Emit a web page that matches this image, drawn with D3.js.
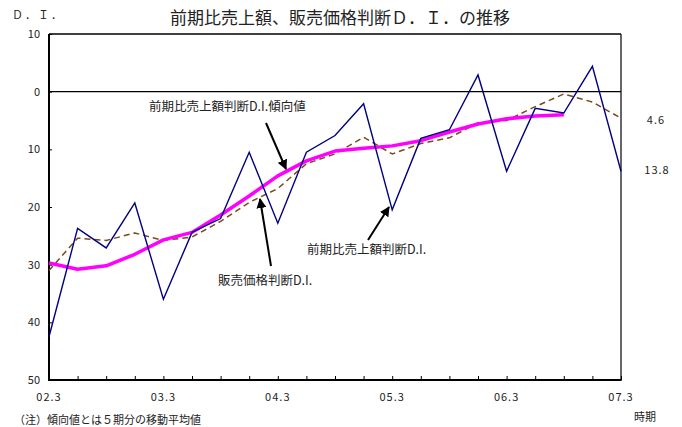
<!DOCTYPE html>
<html>
<head>
<meta charset="utf-8">
<script src="https://cdn.jsdelivr.net/npm/d3@7"></script>
<style>
  html, body { margin: 0; padding: 0; background: #fff; }
  svg text { font-family: "Noto Sans CJK JP", "Noto Sans", sans-serif; fill: #222; }
</style>
</head>
<body>
<svg id="chart" width="682" height="427"></svg>
<script>
// Quarterly periods, 2002 Mar to 2007 Mar
const periods = [
  "02.3","02.6","02.9","02.12",
  "03.3","03.6","03.9","03.12",
  "04.3","04.6","04.9","04.12",
  "05.3","05.6","05.9","05.12",
  "06.3","06.6","06.9","06.12",
  "07.3"
];
const tickLabels = ["02.3","03.3","04.3","05.3","06.3","07.3"];
const yTicks = [10, 0, -10, -20, -30, -40, -50];

// 前期比売上額判断D.I.
const salesDI = [
  -42.5, -23.7, -27.1, -19.3, -36.0, -24.4, -22.0, -10.5, -22.8, -10.5,
  -7.6, -2.1, -20.5, -8.1, -6.6, 2.9, -13.8, -2.9, -3.7, 4.4, -13.8
];
// 販売価格判断D.I.
const priceDI = [
  -31.0, -25.4, -25.8, -24.5, -25.8, -25.2, -22.5, -19.2, -16.8, -12.5,
  -10.8, -7.9, -10.8, -9.0, -8.0, -5.4, -5.0, -2.6, -0.4, -1.8, -4.6
];
// 前期比売上額判断D.I.傾向値 (5期移動平均)
const salesTrend = [
  -29.7, -30.8, -30.2, -28.2, -25.7, -24.4, -21.4, -18.1, -14.6, -12.0,
  -10.3, -9.8, -9.4, -8.5, -7.0, -5.6, -4.7, -4.2, -4.0
];

const svg = d3.select("#chart");
const plotL = 49, plotR = 621, plotT = 34, plotB = 380;

const x = d3.scalePoint().domain(periods).range([plotL, plotR]);
const y = d3.scaleLinear().domain([10, -50]).range([plotT, plotB]);

// title and unit
svg.append("text").attr("x", 340).attr("y", 24).attr("text-anchor", "middle")
  .attr("font-size", 17).text("前期比売上額、販売価格判断Ｄ．Ｉ．の推移");
svg.append("text").attr("x", 12).attr("y", 19).attr("font-size", 11)
  .attr("letter-spacing", 2).text("Ｄ．Ｉ．");

// zero line
svg.append("line").attr("x1", plotL).attr("x2", plotR)
  .attr("y1", y(0)).attr("y2", y(0)).attr("stroke", "#000").attr("stroke-width", 1.2);

// y axis
const yAxis = d3.axisRight(y).tickValues(yTicks).tickSize(3).tickFormat("");
svg.append("g").attr("transform", `translate(${plotL},0)`).call(yAxis)
  .call(g => g.select(".domain").remove())
  .call(g => g.selectAll("line").attr("stroke", "#000"));
svg.append("g").selectAll("text").data(yTicks).join("text")
  .attr("x", 40).attr("y", d => y(d) + 4).attr("text-anchor", "end")
  .attr("font-size", 11).text(d => Math.abs(d));

// x axis
const xAxis = d3.axisTop(x).tickSize(4).tickFormat("");
svg.append("g").attr("transform", `translate(0,${plotB})`).call(xAxis)
  .call(g => g.select(".domain").remove())
  .call(g => g.selectAll("line").attr("stroke", "#000"));
svg.append("g").selectAll("text").data(tickLabels).join("text")
  .attr("x", d => x(d)).attr("y", 401).attr("text-anchor", "middle")
  .attr("font-size", 11).attr("letter-spacing", 1).text(d => d);

// frame
svg.append("line").attr("x1", plotL).attr("x2", plotR).attr("y1", plotT).attr("y2", plotT)
  .attr("stroke", "#000").attr("stroke-width", 1.5);
svg.append("line").attr("x1", plotR).attr("x2", plotR).attr("y1", plotT).attr("y2", plotB)
  .attr("stroke", "#000").attr("stroke-width", 1.2);
svg.append("line").attr("x1", plotL).attr("x2", plotL).attr("y1", plotT).attr("y2", plotB + 1)
  .attr("stroke", "#000").attr("stroke-width", 2);
svg.append("line").attr("x1", plotL).attr("x2", plotR + 0.6).attr("y1", plotB).attr("y2", plotB)
  .attr("stroke", "#000").attr("stroke-width", 2);

// series
const line = d3.line().x((d, i) => x(periods[i])).y(d => y(d));

svg.append("path").datum(priceDI).attr("d", line).attr("fill", "none")
  .attr("stroke", "#7a4a1a").attr("stroke-width", 1.5).attr("stroke-dasharray", "6,4")
  .attr("stroke-linejoin", "round");
svg.append("path").datum(salesTrend).attr("d", line).attr("fill", "none")
  .attr("stroke", "#ff00ff").attr("stroke-width", 3.5).attr("stroke-linejoin", "round");
svg.append("path").datum(salesDI).attr("d", line).attr("fill", "none")
  .attr("stroke", "#000080").attr("stroke-width", 1.4);

// end value labels
svg.append("text").attr("x", 656).attr("y", 124).attr("text-anchor", "middle")
  .attr("font-size", 11).attr("letter-spacing", 1).text(Math.abs(priceDI[20]).toFixed(1));
svg.append("text").attr("x", 657).attr("y", 174).attr("text-anchor", "middle")
  .attr("font-size", 11).attr("letter-spacing", 1).text(Math.abs(salesDI[20]).toFixed(1));

// annotations with arrows
const defs = svg.append("defs");
defs.append("marker").attr("id", "ah").attr("viewBox", "0 0 10 10")
  .attr("refX", 9).attr("refY", 5).attr("markerWidth", 5).attr("markerHeight", 5)
  .attr("orient", "auto").attr("markerUnits", "strokeWidth")
  .append("path").attr("d", "M0,0 L10,5 L0,10 Z").attr("fill", "#000");

function arrow(x1, y1, x2, y2) {
  svg.append("line").attr("x1", x1).attr("y1", y1).attr("x2", x2).attr("y2", y2)
    .attr("stroke", "#000").attr("stroke-width", 2).attr("marker-end", "url(#ah)");
}
svg.append("text").attr("x", 149).attr("y", 111).attr("font-size", 12.5)
  .text("前期比売上額判断D.I.傾向値");
arrow(266, 123, 286, 169);
svg.append("text").attr("x", 307).attr("y", 254).attr("font-size", 12.5)
  .text("前期比売上額判断D.I.");
arrow(368, 240, 389, 207);
svg.append("text").attr("x", 218).attr("y", 285).attr("font-size", 12.5)
  .text("販売価格判断D.I.");
arrow(271, 266, 260, 199);

// footnote and axis title
svg.append("text").attr("x", 14).attr("y", 424).attr("font-size", 11)
  .text("（注）傾向値とは５期分の移動平均値");
svg.append("text").attr("x", 645).attr("y", 421).attr("text-anchor", "middle")
  .attr("font-size", 11).text("時期");
</script>
</body>
</html>
